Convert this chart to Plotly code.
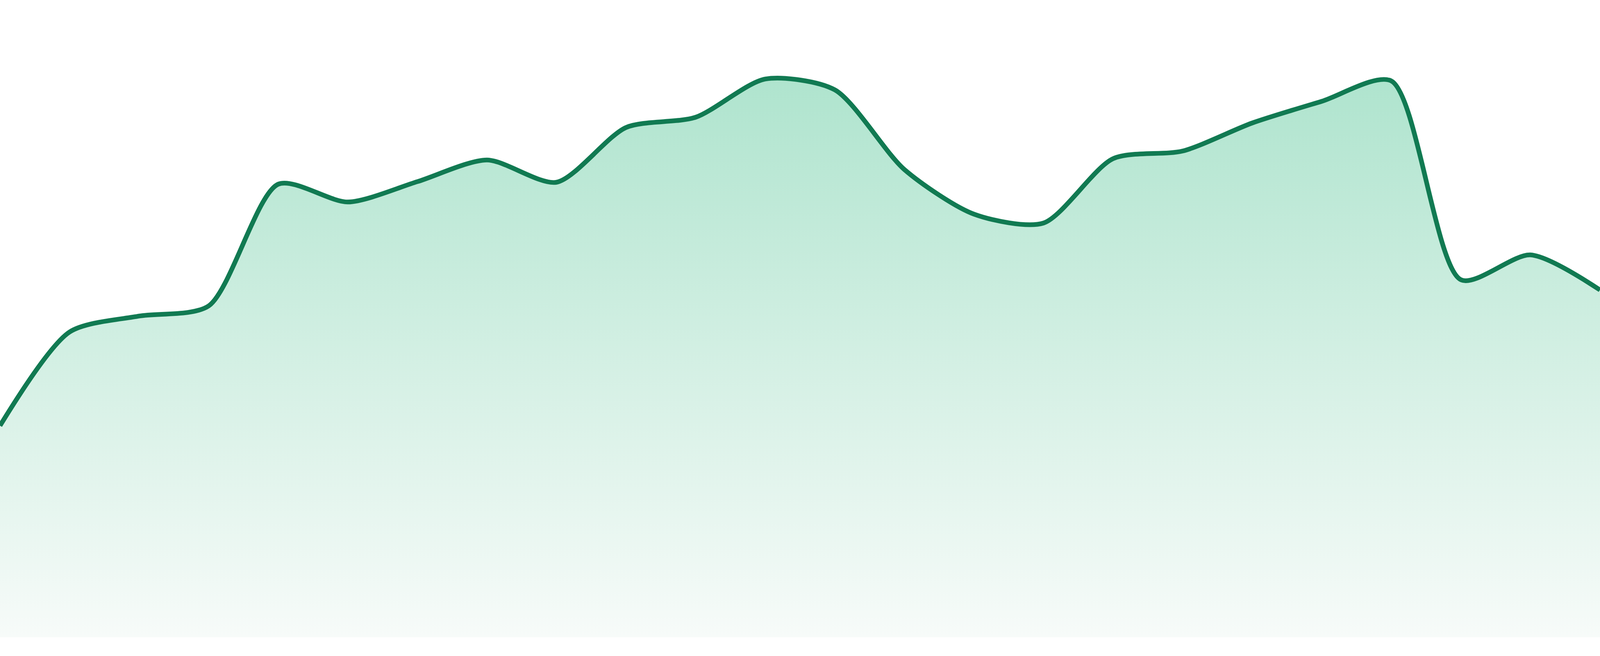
import plotly.graph_objects as go

# Data (24 evenly spaced points, arbitrary units 0-100)
x_index = list(range(24))
values = [33.2, 47.9, 50.4, 52.0, 71.1, 68.3, 71.5, 74.9, 71.4, 80.0, 81.6, 87.6,
          85.9, 73.4, 66.4, 65.0, 75.1, 76.3, 80.7, 84.1, 87.3, 56.1, 60.0, 54.5]

LINE_COLOR = "#117a52"
FILL_TOP = "#afe4ce"
FILL_BOTTOM = "#f7fbf9"

fig = go.Figure()
fig.add_trace(go.Scatter(
    x=x_index,
    y=values,
    mode="lines",
    line=dict(color=LINE_COLOR, width=12, shape="spline", smoothing=0.75),
    fill="tozeroy",
    fillgradient=dict(type="vertical", start=0, stop=max(values),
                      colorscale=[[0, FILL_BOTTOM], [1, FILL_TOP]]),
    hoverinfo="skip",
    showlegend=False,
))

fig.update_layout(
    autosize=True,
    margin=dict(l=0, r=0, t=0, b=48, pad=0),
    paper_bgcolor="white",
    plot_bgcolor="white",
    xaxis=dict(range=[0, 23], visible=False, showgrid=False, zeroline=False, fixedrange=True),
    yaxis=dict(range=[0, 100], visible=False, showgrid=False, zeroline=False, fixedrange=True),
    showlegend=False,
)

post = ("document.body.style.margin='0';"
        "document.body.style.overflow='hidden';"
        "document.documentElement.style.overflow='hidden';"
        "window.dispatchEvent(new Event('resize'));")

fig.write_html("out.html", config={"displayModeBar": False, "responsive": True},
               default_width="100vw", default_height="100vh", post_script=post)
